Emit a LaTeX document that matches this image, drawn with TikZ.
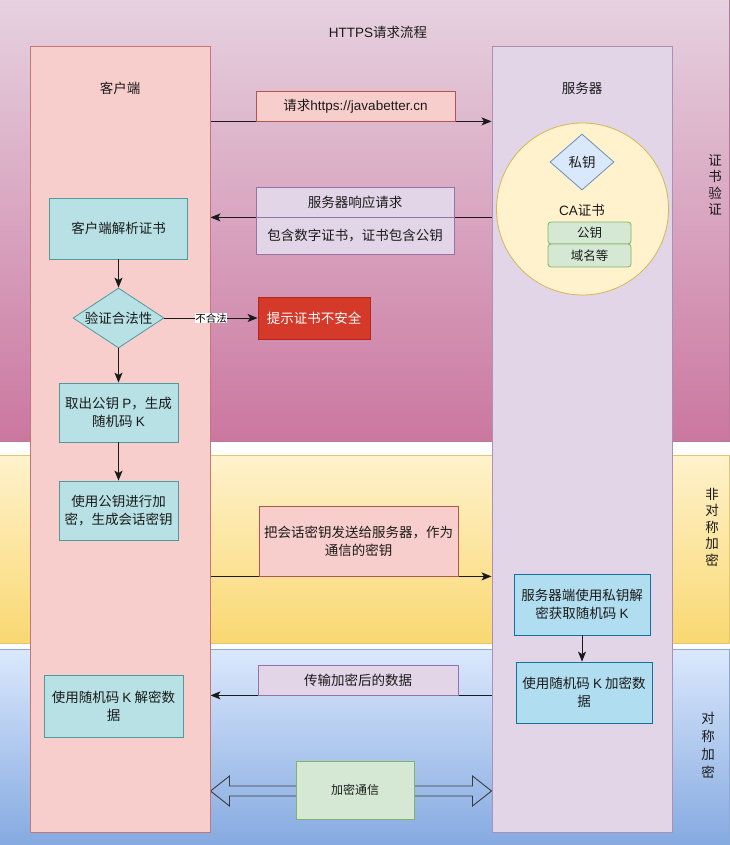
\documentclass[tikz,border=0pt]{standalone}
\usepackage{fontspec}
\setmainfont{Noto Sans CJK SC}
\newfontfamily\latf{Liberation Sans}
\newcommand\lat[1]{{\latf #1}}
\usetikzlibrary{arrows.meta,calc,shapes.geometric}
\pgfdeclarelayer{back}
\pgfdeclarelayer{mid}
\pgfsetlayers{back,mid,main}
\definecolor{bandAtop}{HTML}{E6D2E0}
\definecolor{bandAbot}{HTML}{CB779F}
\definecolor{bandAline}{HTML}{B9799A}
\definecolor{bandBtop}{HTML}{FFF2CC}
\definecolor{bandBbot}{HTML}{F9D872}
\definecolor{bandBline}{HTML}{E3C76F}
\definecolor{bandCtop}{HTML}{DAE8FC}
\definecolor{bandCbot}{HTML}{83A8E0}
\definecolor{bandCline}{HTML}{8FA9D6}
\definecolor{redf}{HTML}{F8CECC}
\definecolor{redd}{HTML}{B85450}
\definecolor{purf}{HTML}{E1D5E7}
\definecolor{purd}{HTML}{9673A6}
\definecolor{tealf}{HTML}{B7E1E4}
\definecolor{teald}{HTML}{4E9A9F}
\definecolor{bluef}{HTML}{B1DDF0}
\definecolor{blued}{HTML}{10739E}
\definecolor{dbluef}{HTML}{DAE8FC}
\definecolor{dblued}{HTML}{6C8EBF}
\definecolor{yelf}{HTML}{FFF2CC}
\definecolor{yeld}{HTML}{D6B656}
\definecolor{grnf}{HTML}{D5E8D4}
\definecolor{grnd}{HTML}{82B366}
\definecolor{alertf}{HTML}{D5392A}
\definecolor{alertd}{HTML}{B3261C}
\definecolor{ink}{HTML}{1A1A1A}
\tikzset{
  txt/.style={font=\fontsize{13.5}{18}\selectfont, align=center, text=ink},
  box/.style={txt, draw, line width=0.8pt, inner sep=0pt},
  lanebox/.style={box, line width=1pt},
  tealbox/.style={box, fill=tealf, draw=teald},
  srvbox/.style={box, fill=bluef, draw=blued},
  pinkmsg/.style={box, fill=redf, draw=redd},
  purmsg/.style={box, fill=purf, draw=purd},
  greenbox/.style={box, fill=grnf, draw=grnd},
  arr/.style={draw=ink, line width=0.9pt, -{Stealth[length=10pt,width=8pt,inset=2.5pt]}},
  lbl/.style={fill=white, inner sep=0.5pt, font=\fontsize{10.5}{12}\selectfont, text=black},
  vlabel/.style={txt, inner sep=0pt},
}
\begin{document}
\begin{tikzpicture}[x=1pt,y=-1pt]
\useasboundingbox (0,0) rectangle (730,845);
% bands
\begin{pgfonlayer}{back}
\path[top color=bandAtop, bottom color=bandAbot] (-2,-2) rectangle (729.5,441.5);
\draw[bandAline, line width=0.8pt] (729.5,-2) -- (729.5,441.5) -- (-2,441.5);
\path[top color=bandBtop, bottom color=bandBbot, draw=bandBline, line width=0.8pt] (-2,455) rectangle (729.5,643);
\path[top color=bandCtop, bottom color=bandCbot, draw=bandCline, line width=0.8pt] (-2,649) rectangle (729.5,850);
\end{pgfonlayer}
% title
\node[txt] (title) at (378,32) {\lat{HTTPS}请求流程};
% lanes
\node[lanebox, fill=redf, draw=redd!80, minimum width=180pt, minimum height=785pt] (cl) at (120,439.5) {};
\node[lanebox, fill=purf, draw=purd!80, minimum width=180pt, minimum height=785pt] (sv) at (582,439.5) {};
\node[txt] (cllbl) at (120,88) {客户端};
\node[txt] (svlbl) at (582,88) {服务器};
% right labels
\node[vlabel, font=\fontsize{13.5}{16.5}\selectfont] (lab1) at (715,185) {证\\书\\验\\证};
\node[vlabel, font=\fontsize{13.5}{16.5}\selectfont] (lab2) at (712,527) {非\\对\\称\\加\\密};
\node[vlabel, font=\fontsize{13.5}{18}\selectfont] (lab3) at (708,745) {对\\称\\加\\密};
% message label boxes
\node[pinkmsg, minimum width=199pt, minimum height=30pt] (req) at (355.5,106) {请求\lat{https://javabetter.cn}};
\node[purmsg, minimum width=198pt, minimum height=30pt] (resp1) at (355,202) {服务器响应请求};
\node[purmsg, minimum width=198pt, minimum height=37pt] (resp2) at (355,235.5) {包含数字证书，证书包含公钥};
\node[pinkmsg, minimum width=199pt, minimum height=70pt] (sess) at (358.5,541) {把会话密钥发送给服务器，作为\\通信的密钥};
\node[purmsg, minimum width=200pt, minimum height=30pt] (data) at (358,680) {传输加密后的数据};
% CA certificate
\node[box, circle, fill=yelf, draw=yeld, minimum size=172pt] (ca) at (582.5,209) {};
\node[box, diamond, fill=dbluef, draw=dblued, minimum width=64pt, minimum height=56pt] (priv) at (582,162) {私钥};
\node[txt] (catxt) at (582,210) {\lat{CA}证书};
\node[greenbox, rounded corners=3pt, minimum width=83pt, minimum height=22pt, font=\fontsize{12.5}{14}\selectfont] (pub) at (589.5,233) {公钥};
\node[greenbox, rounded corners=3pt, minimum width=83pt, minimum height=23pt, font=\fontsize{12.5}{14}\selectfont] (dom) at (589.5,255.5) {域名等};
% client steps
\node[tealbox, minimum width=138pt, minimum height=61pt] (parse) at (118.5,228.5) {客户端解析证书};
\node[tealbox, diamond, aspect=1.5, minimum width=91pt, minimum height=60pt] (valid) at (118.5,318) {验证合法性};
\node[box, fill=alertf, draw=alertd, text=white, minimum width=112pt, minimum height=42pt] (alert) at (314,318) {提示证书不安全};
\node[tealbox, minimum width=119pt, minimum height=59pt] (take) at (118.5,412.5) {取出公钥 \lat{P}，生成\\随机码 \lat{K}};
\node[tealbox, minimum width=119pt, minimum height=59pt] (encr) at (118.5,510.5) {使用公钥进行加\\密，生成会话密钥};
\node[tealbox, minimum width=139pt, minimum height=62pt] (cdec) at (113.5,706) {使用随机码 \lat{K} 解密数\\据};
% server steps
\node[srvbox, minimum width=136pt, minimum height=61pt] (sdec) at (582,604.5) {服务器端使用私钥解\\密获取随机码 \lat{K}};
\node[srvbox, minimum width=136pt, minimum height=61pt] (senc) at (584,692.5) {使用随机码 \lat{K} 加密数\\据};
% connectors
\draw[arr] (parse.south) -- (valid.north);
\draw[arr] (valid.south) -- (take.north);
\draw[arr] (take.south) -- (encr.north);
\draw[arr] (valid.east) -- node[lbl] (bad) {不合法} (alert.west);
\draw[arr] (sdec.south) -- (sdec.south |- senc.north);
% message arrows: under the label boxes
\begin{pgfonlayer}{mid}
\draw[arr] (cl.east |- req.south) -- (sv.west |- req.south);
\draw[arr] (sv.west |- resp1.south) -- (cl.east |- resp1.south);
\draw[arr] (cl.east |- sess.south) -- (sv.west |- sess.south);
\draw[arr] (sv.west |- data.south) -- (cl.east |- data.south);
\coordinate (dl) at (cl.east |- 0,791);
\coordinate (dr) at (sv.west |- 0,791);
\draw[draw=ink!85, line width=0.9pt, line join=miter]
  (dl) -- ($(dl)+(19,-15)$) -- ($(dl)+(19,-5)$) -- ($(dr)+(-19,-5)$) -- ($(dr)+(-19,-15)$) -- (dr)
  -- ($(dr)+(-19,15)$) -- ($(dr)+(-19,5)$) -- ($(dl)+(19,5)$) -- ($(dl)+(19,15)$) -- cycle;
\end{pgfonlayer}
\node[greenbox, minimum width=118pt, minimum height=58pt, font=\fontsize{12}{14}\selectfont] (comm) at (355,790) {加密通信};
\end{tikzpicture}
\end{document}
